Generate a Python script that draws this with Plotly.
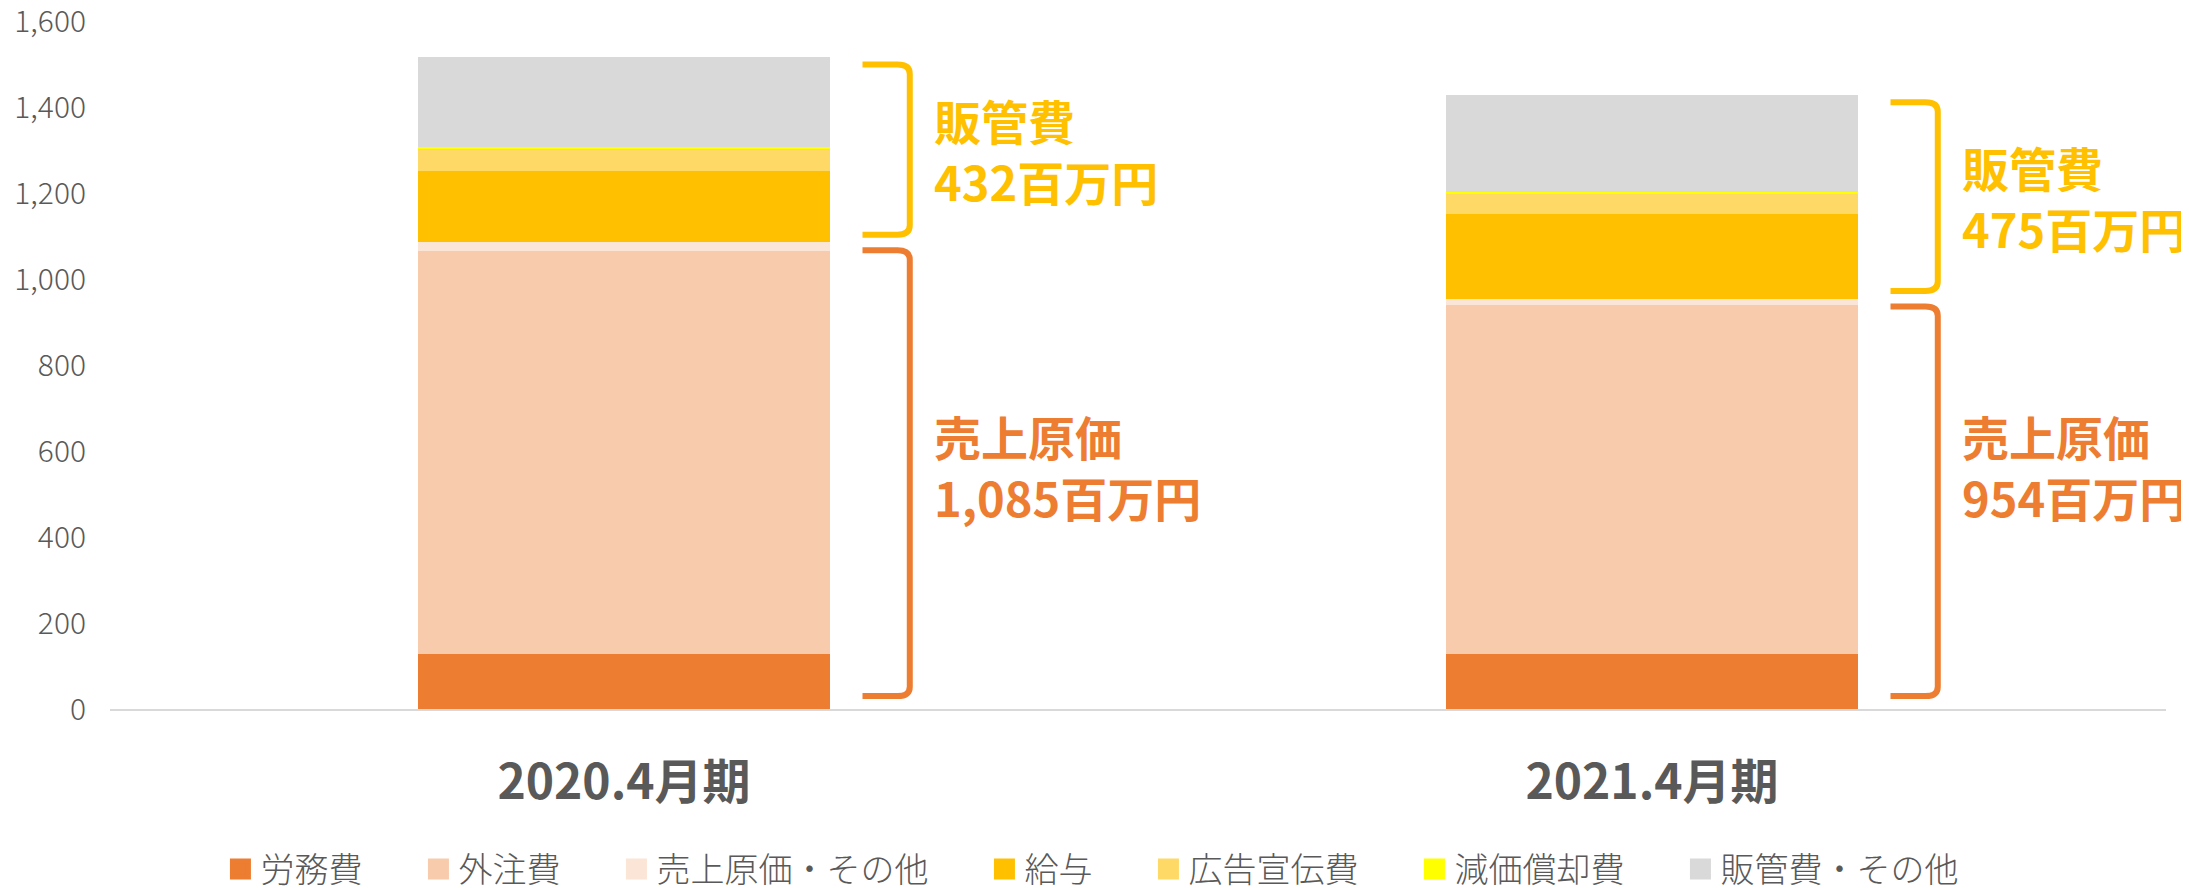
import plotly.graph_objects as go

# values in 百万円
periods = ["2020.4月期", "2021.4月期"]
labor = [128, 128]          # 労務費
outsourcing = [936, 812]    # 外注費
cogs_other = [21, 14]       # 売上原価・その他
salary = [167, 197]         # 給与
advertising = [51, 47]      # 広告宣伝費
depreciation = [5, 4]       # 減価償却費
sga_other = [209, 227]      # 販管費・その他

y_ticks = [0, 200, 400, 600, 800, 1000, 1200, 1400, 1600]

FONT = "Noto Sans CJK JP"
GRAY = "#595959"
ORANGE = "#ED7D31"
GOLD = "#FFC000"

series = [
    ("労務費", labor, "#ED7D31"),
    ("外注費", outsourcing, "#F8CBAD"),
    ("売上原価・その他", cogs_other, "#FBE5D6"),
    ("給与", salary, "#FFC000"),
    ("広告宣伝費", advertising, "#FFD966"),
    ("減価償却費", depreciation, "#FFFF00"),
    ("販管費・その他", sga_other, "#D9D9D9"),
]

xs = list(range(len(periods)))
BAR_W = 0.4

fig = go.Figure()
for name, vals, color in series:
    fig.add_trace(go.Bar(
        x=xs, y=vals, name=name, width=BAR_W,
        marker=dict(color=color, line=dict(width=0)),
        showlegend=False, hoverinfo="y+name",
    ))
    # dummy trace so the legend swatch can be a bigger square
    # (trailing spaces widen the gap to the next entry)
    fig.add_trace(go.Scatter(
        x=[None], y=[None], mode="markers", name=name + "\u3000\u2002",
        marker=dict(symbol="square", size=16, color=color,
                    line=dict(color=color, width=5)),
    ))

cogs = [a + b + c for a, b, c in zip(labor, outsourcing, cogs_other)]
sga = [a + b + c + d for a, b, c, d in zip(salary, advertising, depreciation, sga_other)]
total = [c + s for c, s in zip(cogs, sga)]


def bracket(xl, xr, ytop, ybot, rx=0.012, ry=22):
    return (f"M {xl},{ytop} L {xr - rx},{ytop} Q {xr},{ytop} {xr},{ytop - ry} "
            f"L {xr},{ybot + ry} Q {xr},{ybot} {xr - rx},{ybot} L {xl},{ybot}")


GAP = 18
COGS_LABEL_Y = 565
for i in xs:
    xl = i + BAR_W / 2 + 0.032
    xr = i + BAR_W / 2 + 0.078
    # 販管費 bracket
    fig.add_shape(type="path", xref="x", yref="y",
                  path=bracket(xl, xr, total[i] - GAP, cogs[i] + GAP),
                  line=dict(color=GOLD, width=6))
    # 売上原価 bracket
    fig.add_shape(type="path", xref="x", yref="y",
                  path=bracket(xl, xr, cogs[i] - GAP, 30),
                  line=dict(color=ORANGE, width=6))
    fig.add_annotation(x=i + BAR_W / 2 + 0.1, y=(total[i] + cogs[i]) / 2,
                       text=f"販管費<br>{sga[i]:,}百万円", showarrow=False,
                       xanchor="left", yanchor="middle", align="left",
                       font=dict(family=FONT, size=47, color=GOLD, weight="bold"))
    fig.add_annotation(x=i + BAR_W / 2 + 0.1, y=COGS_LABEL_Y,
                       text=f"売上原価<br>{cogs[i]:,}百万円", showarrow=False,
                       xanchor="left", yanchor="middle", align="left",
                       font=dict(family=FONT, size=47, color=ORANGE, weight="bold"))

# the page body adds an 8px offset, so the figure is drawn 8px smaller
fig.update_layout(
    width=2181, height=880,
    margin=dict(l=102, r=23, t=13, b=179, autoexpand=False),
    barmode="stack",
    plot_bgcolor="white", paper_bgcolor="white",
    font=dict(family=FONT, color=GRAY),
    legend=dict(orientation="h", x=0.49, xanchor="center", y=-0.233, yanchor="middle",
                traceorder="normal", itemsizing="trace",
                font=dict(family=FONT, size=34, color=GRAY, weight=300)),
)
fig.update_xaxes(
    range=[-0.5, 1.5], tickvals=xs, ticktext=periods, automargin=False,
    showgrid=False, zeroline=False, showline=True, linecolor="#D9D9D9", linewidth=2,
    ticks="", ticklabelstandoff=30, ticklabeloverflow="allow",
    tickfont=dict(family=FONT, size=48, color=GRAY, weight="bold"),
)
fig.update_yaxes(
    range=[0, 1600], tickvals=y_ticks, tickformat=",", automargin=False,
    showgrid=False, zeroline=False, showline=False, ticks="", ticklabelstandoff=23,
    ticklabeloverflow="allow",
    tickfont=dict(family=FONT, size=30, color=GRAY, weight=300),
)

fig.write_html("out.html")
